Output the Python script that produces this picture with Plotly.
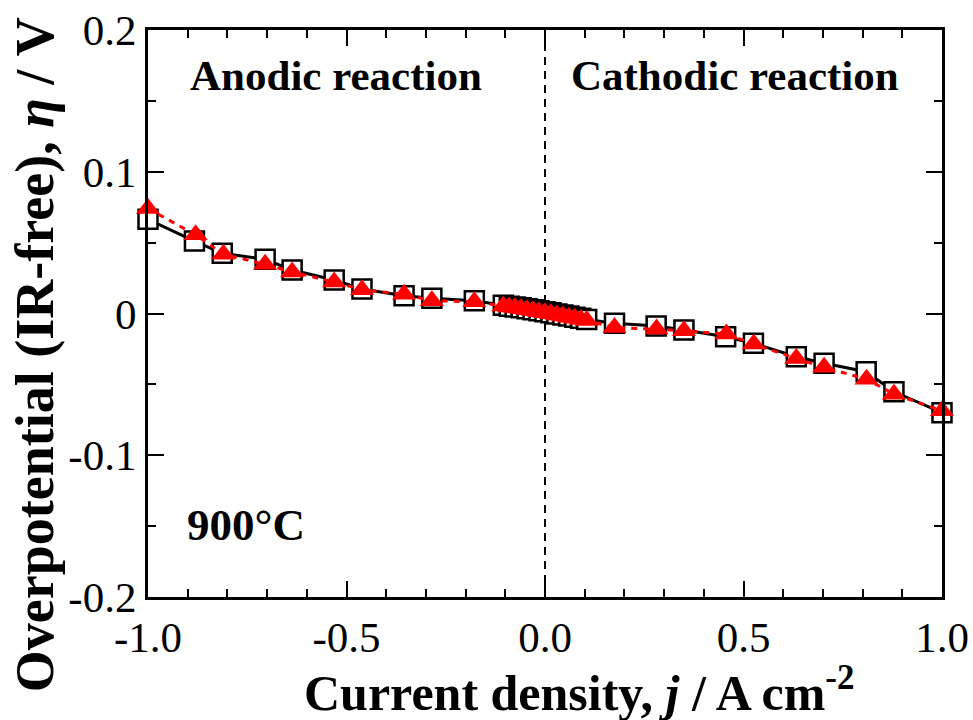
import plotly.graph_objects as go

# Open squares (black, solid line)
sq_x = [-1.0, -0.883, -0.813, -0.705, -0.637, -0.531, -0.461, -0.355, -0.285, -0.178,
        -0.105, -0.09, -0.075, -0.06, -0.045, -0.03, -0.015, 0.0, 0.015, 0.03, 0.045, 0.06, 0.075, 0.09, 0.105,
        0.175, 0.280, 0.350, 0.455, 0.525, 0.633, 0.703, 0.809, 0.879, 1.0]
sq_y = [0.0665, 0.0511, 0.0425, 0.0382, 0.0307, 0.0236, 0.0173, 0.0126, 0.0107, 0.0090,
        0.0058, 0.0052, 0.0045, 0.0040, 0.0033, 0.0027, 0.0020, 0.0013, 0.0005, -0.0003, -0.0010, -0.0018, -0.0026, -0.0034, -0.0042,
        -0.0069, -0.0088, -0.0116, -0.0164, -0.0210, -0.0305, -0.0351, -0.0411, -0.0552, -0.0700]

# Red triangles (red, dashed line)
tri_x = [-1.0, -0.880, -0.810, -0.705, -0.637, -0.531, -0.461, -0.355, -0.285, -0.178,
         -0.105, -0.09, -0.075, -0.06, -0.045, -0.03, -0.015, 0.0, 0.015, 0.03, 0.045, 0.06, 0.075, 0.09, 0.105,
         0.175, 0.281, 0.350, 0.457, 0.526, 0.633, 0.703, 0.810, 0.879, 1.0]
tri_y = [0.0740, 0.0555, 0.0418, 0.0347, 0.0293, 0.0222, 0.0167, 0.0136, 0.0090, 0.0083,
         0.0053, 0.0046, 0.0040, 0.0034, 0.0027, 0.0020, 0.0013, 0.0006, -0.0002, -0.0010, -0.0018, -0.0026, -0.0034, -0.0042, -0.0050,
         -0.0098, -0.0110, -0.0121, -0.0145, -0.0216, -0.0317, -0.0380, -0.0463, -0.0569, -0.0686]

x_ticks = [-1.0, -0.5, 0.0, 0.5, 1.0]
x_ticklabels = ["-1.0", "-0.5", "0.0", "0.5", "1.0"]
y_ticks = [-0.2, -0.1, 0.0, 0.1, 0.2]
y_ticklabels = ["-0.2", "-0.1", "0", "0.1", "0.2"]

FONT = "Liberation Serif, Times New Roman, serif"

fig = go.Figure()
fig.add_trace(go.Scatter(
    x=sq_x, y=sq_y, mode="lines+markers", cliponaxis=False,
    line=dict(color="black", width=3),
    marker=dict(symbol="square", size=19, color="white", line=dict(color="black", width=2.5)),
    showlegend=False))
fig.add_trace(go.Scatter(
    x=tri_x, y=tri_y, mode="lines+markers", cliponaxis=False,
    line=dict(color="red", width=3, dash="6px,6px"),
    marker=dict(symbol="triangle-up", size=21, color="red", line=dict(width=0)),
    showlegend=False))

# vertical dashed line at j = 0
fig.add_shape(type="line", x0=0, x1=0, y0=-0.2, y1=0.2, xref="x", yref="y",
              line=dict(color="black", width=2, dash="8px,6px"), layer="below")

axis_common = dict(
    showline=True, linecolor="black", linewidth=3, mirror="allticks",
    ticks="inside", ticklen=16, tickwidth=2, tickcolor="black",
    showgrid=False, zeroline=False, automargin=False,
    tickfont=dict(family=FONT, size=43, color="black"),
)

fig.update_xaxes(range=[-1.0, 1.0], tickmode="array", tickvals=x_ticks, ticktext=x_ticklabels,
                 minor=dict(dtick=0.1, ticks="inside", ticklen=8, tickwidth=2, tickcolor="black", showgrid=False),
                 ticklabelstandoff=0,
                 **axis_common)
fig.update_yaxes(range=[-0.2, 0.2], tickmode="array", tickvals=y_ticks, ticktext=y_ticklabels,
                 minor=dict(dtick=0.05, ticks="inside", ticklen=8, tickwidth=2, tickcolor="black", showgrid=False),
                 **axis_common)

# axis titles
fig.add_annotation(xref="paper", yref="paper", x=0.544, y=-0.164, xanchor="center", yanchor="middle",
                   text="<b>Current density, <i>j</i> / A cm<sup>-2</sup></b>", showarrow=False,
                   font=dict(family=FONT, size=50, color="black"))
fig.add_annotation(xref="paper", yref="paper", x=-0.142, y=0.427, xanchor="center", yanchor="middle",
                   textangle=-90,
                   text="<b>Overpotential (IR-free), <i>η</i> / V</b>", showarrow=False,
                   font=dict(family=FONT, size=54, color="black"))

fig.add_annotation(x=-0.526, y=0.168, text="<b>Anodic reaction</b>", showarrow=False,
                   font=dict(family=FONT, size=43, color="black"))
fig.add_annotation(x=0.479, y=0.168, text="<b>Cathodic reaction</b>", showarrow=False,
                   font=dict(family=FONT, size=43, color="black"))
fig.add_annotation(x=-0.753, y=-0.149, text="<b>900°C</b>", showarrow=False,
                   font=dict(family=FONT, size=45, color="black"))

fig.update_layout(
    width=973, height=720,
    margin=dict(l=148, r=31, t=30, b=123),
    plot_bgcolor="white", paper_bgcolor="white",
    font=dict(family=FONT, color="black"),
)

fig.write_html("out.html", config={"displayModeBar": False},
               post_script="document.body.style.margin='0';document.body.style.overflow='hidden';")
